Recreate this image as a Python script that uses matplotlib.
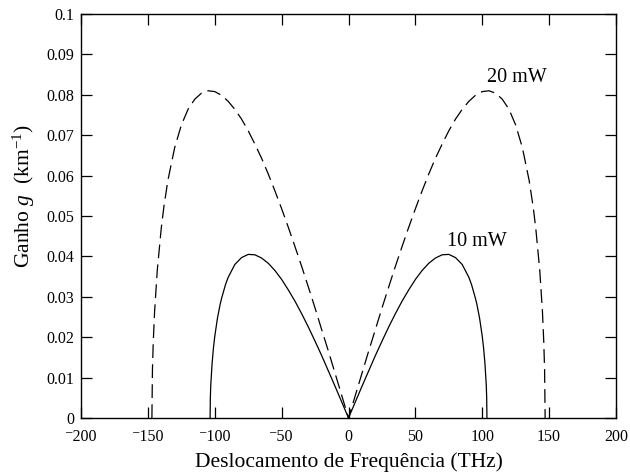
import matplotlib
matplotlib.use("Agg")
import matplotlib.pyplot as plt
import numpy as np

plt.rcParams["font.family"] = ["Liberation Serif", "DejaVu Serif"]
plt.rcParams["mathtext.fontset"] = "custom"
plt.rcParams["mathtext.rm"] = "Liberation Serif"
plt.rcParams["mathtext.it"] = "Liberation Serif:italic"

# frequency shift (THz), positive half; curves are mirrored about 0
omega_10 = [0, 5, 10, 15, 20, 25, 30, 35, 40, 45, 50, 55, 60, 65, 70, 75, 80,
            85, 90, 92, 95, 96, 98, 100, 101, 102, 103, 103.3, 103.5]
gain_10 = [0.0, 0.0039, 0.0078, 0.0116, 0.0154, 0.0190, 0.0225, 0.0258, 0.0289,
           0.0317, 0.0343, 0.0365, 0.0383, 0.0396, 0.0404, 0.0405, 0.0397,
           0.0380, 0.0348, 0.0330, 0.0295, 0.0281, 0.0247, 0.0202, 0.0173,
           0.0135, 0.0081, 0.0050, 0.0]

omega_20 = [0, 5, 10, 15, 20, 25, 30, 35, 40, 45, 50, 55, 60, 65, 70, 75, 80,
            85, 90, 95, 100, 105, 110, 115, 120, 125, 130, 135, 138, 140, 143,
            145, 146, 146.6, 147]
gain_20 = [0.0, 0.0055, 0.0110, 0.0165, 0.0218, 0.0272, 0.0324, 0.0375, 0.0424,
           0.0472, 0.0518, 0.0562, 0.0604, 0.0643, 0.0678, 0.0711, 0.0740,
           0.0764, 0.0784, 0.0799, 0.0808, 0.0810, 0.0804, 0.0789, 0.0764,
           0.0725, 0.0669, 0.0589, 0.0524, 0.0470, 0.0365, 0.0263, 0.0187,
           0.0119, 0.0]

x_ticks = [-200, -150, -100, -50, 0, 50, 100, 150, 200]
y_ticks = [0, 0.01, 0.02, 0.03, 0.04, 0.05, 0.06, 0.07, 0.08, 0.09, 0.1]


def mirror(omega, gain):
    w = np.asarray(omega, dtype=float)
    g = np.asarray(gain, dtype=float)
    return np.concatenate([-w[::-1], w[1:]]), np.concatenate([g[::-1], g[1:]])


fig = plt.figure(figsize=(6.3, 4.72), dpi=100)
ax = fig.add_axes([0.1286, 0.1144, 0.8492, 0.8559])

x10, y10 = mirror(omega_10, gain_10)
x20, y20 = mirror(omega_20, gain_20)
ax.plot(x10, y10, color="black", lw=0.9)
ax.plot(x20, y20, color="black", lw=0.9, dashes=(11, 5))

ax.text(103.5, 0.0842, "20 mW", fontsize=14.5, va="center", ha="left")
ax.text(73.5, 0.0436, "10 mW", fontsize=14.5, va="center", ha="left")

ax.set_xlim(-200, 200)
ax.set_ylim(0, 0.1)
ax.set_xticks(x_ticks)
# raised short minus on the frequency labels
ax.set_xticklabels([f"{v}".replace("-", "\u207b") for v in x_ticks])
ax.set_yticks(y_ticks)
ax.set_yticklabels([f"{v:g}" for v in y_ticks])
ax.tick_params(direction="in", length=8, width=0.9, top=True, right=True,
               labelsize=11.5)
ax.tick_params(axis="x", pad=8)
ax.tick_params(axis="y", pad=5)
for s in ax.spines.values():
    s.set_linewidth(1.0)

ax.set_xlabel("Deslocamento de Frequência (THz)", fontsize=15.5)
ax.xaxis.set_label_coords(0.5, -0.084)
ax.set_ylabel(r"Ganho $g$  (km$^{-1}$)", fontsize=15.5)
ax.yaxis.set_label_coords(-0.082, 0.55)

fig.savefig("out.png", dpi=100)
